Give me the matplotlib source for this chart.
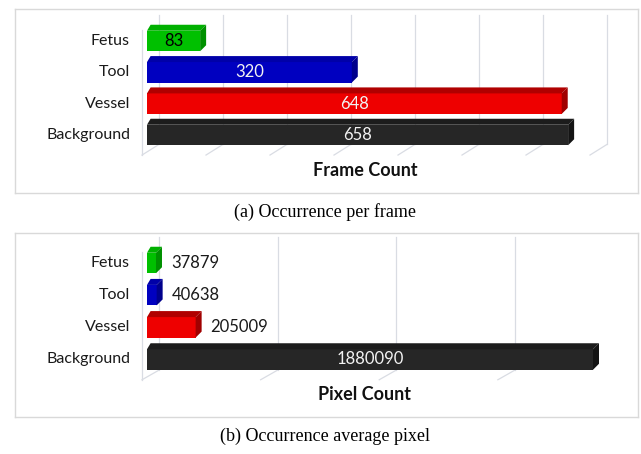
import matplotlib.pyplot as plt
import numpy as np
from matplotlib.patches import Polygon

# Class names (bottom to top) and counts
classes = ["Background", "Vessel", "Tool", "Fetus"]
frame_counts = [658, 648, 320, 83]
pixel_counts = [1880090, 205009, 40638, 37879]

frame_ticks = [0, 100, 200, 300, 400, 500, 600, 700]
pixel_ticks = [0, 500000, 1000000, 1500000]

front_cols = ["#262626", "#EE0000", "#0000C0", "#00C000"]
top_cols = ["#1C1C1C", "#B00000", "#0000A8", "#00B000"]
side_cols = ["#141414", "#A00000", "#00008C", "#009000"]

W, H = 641, 454
GRID = "#D9DCE3"
plt.rcParams["font.family"] = ["Lato", "DejaVu Sans"]


def make_axes(fig, box, x0_px, x_scale, y3_px, y0_px):
    """Axes covering a panel box; limits chosen so data x=0 sits at x0_px."""
    left, top, right, bottom = box
    ax = fig.add_axes([left / W, 1 - bottom / H, (right - left) / W, (bottom - top) / H])
    ax.set_xlim((left - x0_px) / x_scale, (right - x0_px) / x_scale)
    step = (y0_px - y3_px) / 3
    ax.set_ylim(-(bottom - y0_px) / step, 3 + (y3_px - top) / step)
    ax.set_xticks([])
    ax.set_yticks([])
    for s in ax.spines.values():
        s.set_color("#D9D9D9")
        s.set_linewidth(1.0)
    return ax


def px(ax, dx, dy):
    inv = ax.transData.inverted()
    p0 = inv.transform((0, 0))
    p1 = inv.transform((dx, dy))
    return p1[0] - p0[0], p1[1] - p0[1]


def draw_panel(ax, values, ticks, inside, floor_front, floor_back, grid_top):
    ddx, ddy = px(ax, 6, 6)
    fx, _ = px(ax, -5, 0)
    bx, _ = px(ax, 12, 0)
    h = abs(px(ax, 0, 20.5)[1])

    # back wall gridlines and floor lines
    for t in ticks:
        ax.plot([t + bx, t + bx], [grid_top, floor_back], color=GRID, lw=0.9, zorder=1)
        ax.plot([t + fx, t + bx], [floor_front, floor_back], color=GRID, lw=0.9, zorder=1)
    ax.plot([fx, fx], [3.35, floor_front], color=GRID, lw=0.9, zorder=1)

    y = np.arange(len(values))
    ax.barh(y, values, height=h, color=front_cols, zorder=3)
    for i, v in enumerate(values):
        yt = i + h / 2
        yb = i - h / 2
        ax.add_patch(Polygon([(0, yt), (v, yt), (v + ddx, yt + ddy), (ddx * 0.6, yt + ddy)],
                             closed=True, color=top_cols[i], zorder=3, lw=0))
        ax.add_patch(Polygon([(v, yb), (v + ddx, yb + ddy), (v + ddx, yt + ddy), (v, yt)],
                             closed=True, color=side_cols[i], zorder=3, lw=0))
        ax.annotate(classes[i], (0, i), xytext=(-17, 0), textcoords="offset pixels",
                    ha="right", va="center", fontsize=11.5, color="#1a1a1a")
        if inside[i]:
            col = "black" if classes[i] == "Fetus" else "#F2F2F2"
            ax.text(v / 2, i, f"{v}", ha="center", va="center", fontsize=12,
                    color=col, zorder=4)
        else:
            ax.annotate(f"{v}", (v, i), xytext=(15, 0), textcoords="offset pixels",
                        ha="left", va="center", fontsize=12, color="#1a1a1a")


fig = plt.figure(figsize=(W / 100, H / 100), dpi=100)

# (a) frame count
ax_a = make_axes(fig, (15, 9, 638, 193), 147, 0.64, 41, 135)
draw_panel(ax_a, frame_counts, frame_ticks, [True, True, True, True],
           floor_front=-0.64, floor_back=-0.3, grid_top=3.83)
fig.text(365 / W, 1 - 170 / H, "Frame Count", ha="center", va="center",
         fontsize=13, fontweight="bold", color="#111111")

# (b) pixel count
ax_b = make_axes(fig, (15, 233, 638, 417), 147, 446 / 1880090, 263, 359.5)
draw_panel(ax_b, pixel_counts, pixel_ticks, [True, False, False, False],
           floor_front=-0.63, floor_back=-0.33, grid_top=3.8)
fig.text(365 / W, 1 - 395 / H, "Pixel Count", ha="center", va="center",
         fontsize=13, fontweight="bold", color="#111111")

# captions
fig.text(325 / W, 1 - 212 / H, "(a) Occurrence per frame", ha="center", va="center",
         fontsize=13, family="Liberation Serif")
fig.text(325 / W, 1 - 436 / H, "(b) Occurrence average pixel", ha="center", va="center",
         fontsize=13, family="Liberation Serif")

fig.savefig("out.png", dpi=100)
